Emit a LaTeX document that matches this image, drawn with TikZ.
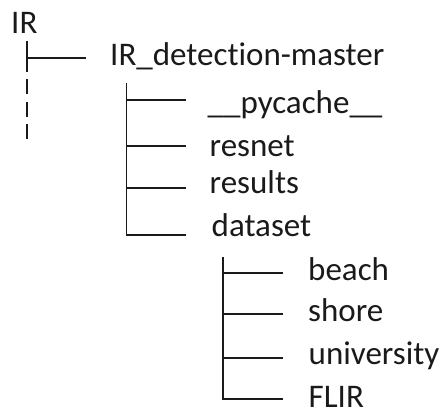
\documentclass[tikz,border=0pt]{standalone}
\usepackage{fontspec}
\setmainfont{Carlito}[Ligatures=NoCommon]
\definecolor{ink}{HTML}{1A1A1A}
\begin{document}
\begin{tikzpicture}[x=1pt,y=-1pt,
  label/.style={anchor=base west,inner sep=0pt,text=ink,font=\fontsize{33}{40}\selectfont},
  branch/.style={draw=ink,line width=1.8pt}]
\useasboundingbox (0,0) rectangle (448,410);

% folder names
\node[label] (ir)     at (11,33)      {IR};
\node[label] (master) at (110,65)     {IR\_detection-master};
\node[label] (pyc)    at (207.5,113)  {\_\_pycache\_\_};
\node[label] (resnet) at (209.5,156.5){resnet};
\node[label] (res)    at (209.5,193.3){results};
\node[label] (data)   at (211.5,236.5){dataset};
\node[label] (beach)  at (308,280)    {beach};
\node[label] (shore)  at (308,321.7)  {shore};
\node[label] (univ)   at (308.5,364.5){university};
\node[label] (flir)   at (308.5,407.5){FLIR};

% level 0 trunk: solid, then dashed continuation
\coordinate (t0top)  at (26.7,41);
\coordinate (t0mid)  at (26.7,72);
\coordinate (t0dash) at (26.7,79);
\coordinate (t0bot)  at (26.7,139);
\coordinate (e0)     at (86,58.3);
\draw[branch] (t0top) -- (t0mid);
\draw[branch,dash pattern=on 15pt off 7.5pt] (t0dash) -- (t0bot);
\draw[branch] (t0top |- e0) -- (e0);

% level 1 trunk under IR_detection-master
\coordinate (t1top) at (126.5,83);
\coordinate (e1a) at (186,100);
\coordinate (e1b) at (186,145.7);
\coordinate (e1c) at (186,188.3);
\coordinate (e1d) at (186,235);
\draw[branch] (t1top) -- (t1top |- e1d) -- (e1d);
\foreach \e in {e1a,e1b,e1c}
  \draw[branch] (t1top |- \e) -- (\e);

% level 2 trunk under dataset
\coordinate (t2top) at (223.3,256.7);
\coordinate (e2a) at (282.7,273.3);
\coordinate (e2b) at (282.7,314);
\coordinate (e2c) at (282.7,358.3);
\coordinate (e2d) at (282.7,399.3);
\draw[branch] (t2top) -- (t2top |- e2d) -- (e2d);
\foreach \e in {e2a,e2b,e2c}
  \draw[branch] (t2top |- \e) -- (\e);
\end{tikzpicture}
\end{document}
